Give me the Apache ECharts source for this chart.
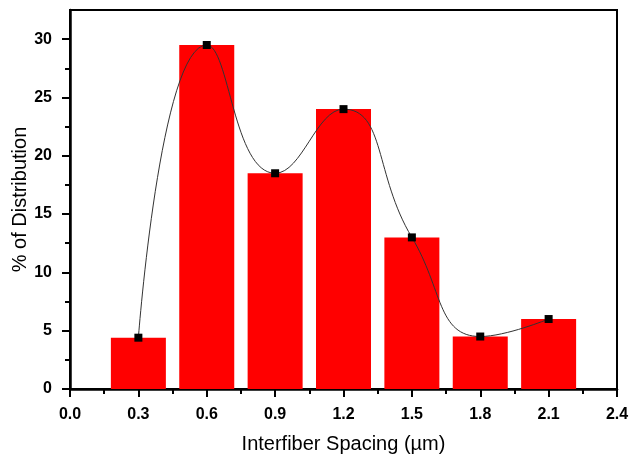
<!DOCTYPE html>
<html>
<head>
<meta charset="utf-8">
<script src="https://cdn.jsdelivr.net/npm/echarts@6/dist/echarts.min.js"></script>
<style>
  html, body { margin: 0; padding: 0; background: #fff; }
  #chart { width: 629px; height: 460px; }
</style>
</head>
<body>
<div id="chart"></div>
<script>
  // data
  var spacing = [0.3, 0.6, 0.9, 1.2, 1.5, 1.8, 2.1];
  var distribution = [4.4, 29.5, 18.5, 24.0, 13.0, 4.5, 6.0];
  var yMajorTicks = [0, 5, 10, 15, 20, 25, 30];
  var yMinorTicks = [2.5, 7.5, 12.5, 17.5, 22.5, 27.5];

  var points = spacing.map(function (x, i) { return [x, distribution[i]]; });

  var chart = echarts.init(document.getElementById('chart'));
  var font = 'Liberation Sans, Arial, sans-serif';

  var option = {
    animation: false,
    backgroundColor: '#fff',
    grid: {
      left: 70, right: 12, top: 10, bottom: 71,
      outerBoundsMode: 'none',
      show: true, borderColor: '#000', borderWidth: 2, backgroundColor: 'transparent'
    },
    xAxis: {
      type: 'value',
      min: 0,
      max: 2.4,
      interval: 0.3,
      name: 'Interfiber Spacing (µm)',
      nameLocation: 'middle',
      nameGap: 45,
      nameMoveOverlap: false,
      nameTextStyle: { fontFamily: font, fontSize: 20, color: '#000' },
      axisLine: { show: true, lineStyle: { color: '#000', width: 2.5 } },
      axisTick: { show: true, inside: false, length: 8, lineStyle: { color: '#000', width: 2 } },
      minorTick: { show: true, splitNumber: 2, length: 5, lineStyle: { color: '#000', width: 2 } },
      axisLabel: {
        margin: 18,
        fontFamily: font, fontSize: 16, fontWeight: 'bold', color: '#000',
        formatter: function (v) { return v.toFixed(1); }
      },
      splitLine: { show: false }
    },
    yAxis: [
      {
        type: 'value',
        min: 0,
        max: 32.5,
        name: '% of Distribution',
        nameLocation: 'middle',
        nameGap: 40,
        nameMoveOverlap: false,
        nameTextStyle: { fontFamily: font, fontSize: 20, color: '#000' },
        axisLine: { show: true, lineStyle: { color: '#000', width: 2.5 } },
        axisTick: { show: true, length: 8, customValues: yMajorTicks, lineStyle: { color: '#000', width: 2 } },
        axisLabel: {
          margin: 18, customValues: yMajorTicks,
          fontFamily: font, fontSize: 16, fontWeight: 'bold', color: '#000'
        },
        splitLine: { show: false }
      },
      {
        type: 'value',
        position: 'left',
        min: 0,
        max: 32.5,
        axisLine: { show: false },
        axisTick: { show: true, length: 5, customValues: yMinorTicks, lineStyle: { color: '#000', width: 2 } },
        axisLabel: { show: false },
        splitLine: { show: false }
      }
    ],
    series: [
      {
        type: 'bar',
        data: points,
        barWidth: 55,
        itemStyle: { color: '#ff0000' },
        z: 2
      },
      {
        type: 'line',
        data: points,
        smooth: 0.5,
        symbol: 'rect',
        symbolSize: 8,
        lineStyle: { color: '#333', width: 1 },
        itemStyle: { color: '#000' },
        z: 3
      }
    ]
  };

  chart.setOption(option);
</script>
</body>
</html>
